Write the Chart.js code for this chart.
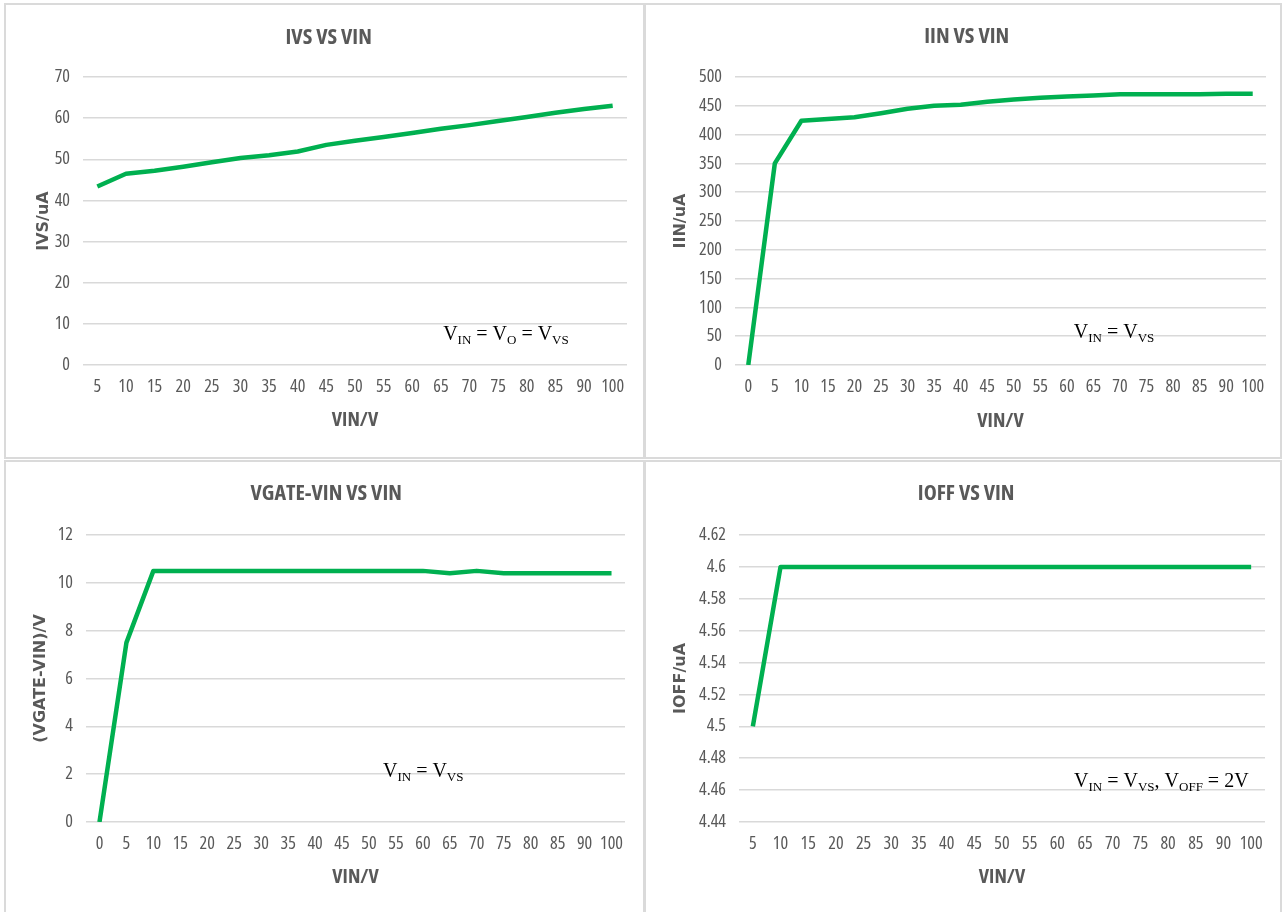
<!DOCTYPE html>
<html>
<head>
<meta charset="utf-8">
<script src="https://cdn.jsdelivr.net/npm/chart.js@4.4.1/dist/chart.umd.min.js"></script>
<style>
  body { margin: 0; background: #fff; width: 1282px; height: 912px; overflow: hidden; position: relative; }
  .box { position: absolute; border: 2px solid #dadada; }
  .box canvas { display: block; }
</style>
</head>
<body>
<div class="box" id="b1"><canvas id="c1"></canvas></div>
<div class="box" id="b2"><canvas id="c2"></canvas></div>
<div class="box" id="b3"><canvas id="c3"></canvas></div>
<div class="box" id="b4"><canvas id="c4"></canvas></div>
<script>
// x categories (VIN in volts)
const vinFrom5 = [5, 10, 15, 20, 25, 30, 35, 40, 45, 50, 55, 60, 65, 70, 75, 80, 85, 90, 100];
const vinFrom0 = [0, 5, 10, 15, 20, 25, 30, 35, 40, 45, 50, 55, 60, 65, 70, 75, 80, 85, 90, 100];

// series
const ivs = [43.4, 46.5, 47.2, 48.2, 49.3, 50.3, 51.0, 51.9, 53.5, 54.5, 55.4, 56.4, 57.4, 58.3, 59.3, 60.3, 61.3, 62.2, 63.0];
const iin = [0, 350, 424, 427, 430, 437, 445, 450, 452, 457, 461, 464, 466, 468, 470, 470, 470, 470, 471, 471];
const vgate = [0, 7.5, 10.5, 10.5, 10.5, 10.5, 10.5, 10.5, 10.5, 10.5, 10.5, 10.5, 10.5, 10.4, 10.5, 10.4, 10.4, 10.4, 10.4, 10.4];
const ioff = [4.5, 4.6, 4.6, 4.6, 4.6, 4.6, 4.6, 4.6, 4.6, 4.6, 4.6, 4.6, 4.6, 4.6, 4.6, 4.6, 4.6, 4.6, 4.6];

// condition notes: [text, isSubscript]
const note1 = [['V', 0], ['IN', 1], [' = V', 0], ['O', 1], [' = V', 0], ['VS', 1]];
const note2 = [['V', 0], ['IN', 1], [' = V', 0], ['VS', 1]];
const note4 = [['V', 0], ['IN', 1], [' = V', 0], ['VS', 1], [', V', 0], ['OFF', 1], [' = 2V', 0]];

const GREEN = '#00B050';
const GREY = '#595959';

// the original uses a narrow (Calibri-like) face; find a condensed one that is installed
function pickNarrow() {
  const ctx = document.createElement('canvas').getContext('2d');
  const sample = 'IVS VS VIN 0123456789';
  ctx.font = '20px "Liberation Sans"';
  const base = ctx.measureText(sample).width;
  const cands = [
    ['', '"Liberation Sans Narrow"'],
    ['', '"Arial Narrow"'],
    ['condensed', '"Open Sans"'],
    ['condensed', '"Noto Sans"'],
    ['condensed', '"Liberation Sans"'],
    ['condensed', '"DejaVu Sans"'],
    ['', '"DejaVu Sans Condensed"']
  ];
  for (const [st, fam] of cands) {
    ctx.font = '20px "Liberation Sans"';
    ctx.font = (st ? st + ' ' : '') + '20px ' + fam + ', "Liberation Sans"';
    const w = ctx.measureText(sample).width;
    if (w < base * 0.92) return { stretch: st, family: fam + ', "Liberation Sans", sans-serif', k: 1 };
  }
  return { stretch: '', family: '"Liberation Sans", sans-serif', k: 0.86 };
}
const NF = pickNarrow();
const wt = w => (w + (NF.stretch ? ' ' + NF.stretch : ''));

const notes = {};

const notePlugin = {
  id: 'condNote',
  afterDraw(chart) {
    const n = notes[chart.canvas.id];
    if (!n) return;
    const a = chart.chartArea;
    const ctx = chart.ctx;
    let x = a.left + n.fx * (a.right - a.left);
    const y = a.top + n.fy * (a.bottom - a.top);
    ctx.save();
    ctx.fillStyle = '#000';
    ctx.textBaseline = 'alphabetic';
    n.parts.forEach(([t, sub]) => {
      ctx.font = sub ? '13px "Liberation Serif", serif' : '20px "Liberation Serif", serif';
      ctx.fillText(t, x, sub ? y + 4 : y);
      x += ctx.measureText(t).width;
    });
    ctx.restore();
  }
};

// p: canvas box + where plot area / titles should land on the page
function makeChart(id, p, labels, values, yMin, yMax, yStep, yTitle, title, note) {
  const box = document.getElementById('b' + id);
  box.style.left = (p.x - 2) + 'px';
  box.style.top = (p.y - 2) + 'px';
  box.style.width = p.w + 'px';
  box.style.height = p.h + 'px';

  const titleSize = Math.round(22 * NF.k);
  const axisSize = Math.round(20 * NF.k);
  const tickSize = Math.round(18 * NF.k);
  const padLeft = p.yt - p.x - 13.6;
  const yWidth = p.l - p.x - padLeft;
  const padRight = p.x + p.w - p.r;
  const scaleBottom = p.xt - p.y + 4 + axisSize * 0.6;
  const padBottom = p.h - scaleBottom;
  const xHeight = scaleBottom - (p.b - p.y);
  const titleTop = p.tt - p.y - titleSize * 0.6;
  const titleBottom = (p.t - p.y) - titleTop - titleSize * 1.2;

  notes['c' + id] = { fx: p.nx, fy: p.ny, parts: note };

  new Chart(document.getElementById('c' + id), {
    type: 'line',
    data: {
      labels: labels,
      datasets: [{
        data: values,
        borderColor: GREEN,
        backgroundColor: GREEN,
        borderWidth: 4.5,
        pointRadius: 0,
        tension: 0,
        borderJoinStyle: 'round',
        fill: false
      }]
    },
    options: {
      responsive: true,
      maintainAspectRatio: false,
      animation: false,
      layout: { padding: { top: 0, left: padLeft, right: padRight, bottom: padBottom } },
      plugins: {
        legend: { display: false },
        tooltip: { enabled: false },
        title: {
          display: true,
          text: title,
          color: GREY,
          font: { family: NF.family, size: titleSize, weight: wt('bold') },
          padding: { top: titleTop, bottom: titleBottom }
        }
      },
      scales: {
        x: {
          type: 'category',
          offset: true,
          grid: { display: false, drawTicks: false },
          border: { display: false },
          ticks: { color: GREY, font: { family: NF.family, size: tickSize, weight: wt('normal') }, autoSkip: false, maxRotation: 0, minRotation: 0, padding: 11 },
          title: { display: true, text: 'VIN/V', color: GREY, font: { family: NF.family, size: axisSize, weight: wt('bold') }, padding: { top: 4, bottom: 4 } },
          afterFit: s => { s.height = xHeight; }
        },
        y: {
          min: yMin,
          max: yMax,
          grid: { color: '#d9d9d9', lineWidth: 1.5, drawTicks: false },
          border: { display: false },
          ticks: {
            stepSize: yStep,
            color: GREY,
            font: { family: NF.family, size: tickSize, weight: wt('normal') },
            padding: 13,
            callback: v => String(parseFloat(v.toFixed(2)))
          },
          title: { display: true, text: yTitle, color: GREY, font: { family: '"DejaVu Sans", sans-serif', size: 16, weight: 'bold' }, padding: { top: 4, bottom: 4 } },
          afterFit: s => { s.width = yWidth; }
        }
      }
    },
    plugins: [notePlugin]
  });
}

makeChart(1, { x: 6, y: 5, w: 637, h: 452, l: 83, r: 627, t: 77, b: 365, yt: 44, xt: 420, tt: 38, nx: 0.662, ny: 0.913 },
  vinFrom5, ivs, 0, 70, 10, 'IVS/uA', 'IVS VS VIN', note1);
makeChart(2, { x: 646, y: 5, w: 634, h: 452, l: 735, r: 1266, t: 77, b: 365, yt: 681, xt: 421, tt: 37, nx: 0.638, ny: 0.906 },
  vinFrom0, iin, 0, 500, 50, 'IIN/uA', 'IIN VS VIN', note2);
makeChart(3, { x: 6, y: 462, w: 637, h: 450, l: 86, r: 625, t: 535, b: 822, yt: 41, xt: 877, tt: 494, nx: 0.551, ny: 0.843 },
  vinFrom0, vgate, 0, 12, 2, '(VGATE-VIN)/V', 'VGATE-VIN VS VIN', note2);
makeChart(4, { x: 646, y: 462, w: 634, h: 450, l: 739, r: 1265, t: 535, b: 822, yt: 681, xt: 877, tt: 494, nx: 0.637, ny: 0.878 },
  vinFrom5, ioff, 4.44, 4.62, 0.02, 'IOFF/uA', 'IOFF VS VIN', note4);
</script>
</body>
</html>
